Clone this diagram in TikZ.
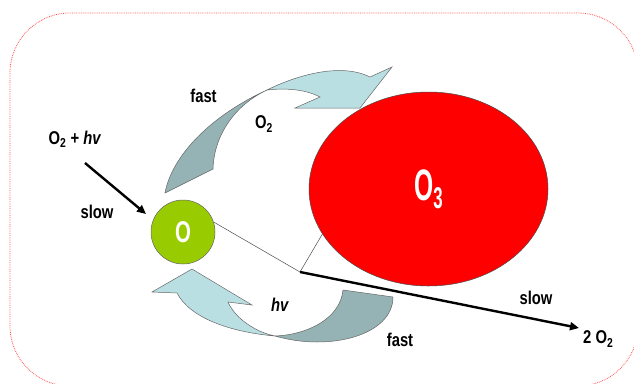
\documentclass[tikz,border=0pt]{standalone}
\usepackage{fontspec}
\setmainfont[FakeStretch=0.8]{Liberation Sans}
\usetikzlibrary{arrows.meta,shapes.geometric}
\definecolor{lightarr}{HTML}{B9DFE3}
\definecolor{darkarr}{HTML}{95B3B5}
\definecolor{ogreen}{HTML}{99CC00}
\definecolor{bordred}{HTML}{FF5050}
\begin{document}
\begin{tikzpicture}[x=1pt,y=-1pt,
  lbl/.style={font=\bfseries\fontsize{18.5}{19}\selectfont, inner sep=0pt},
  ribbonlight/.style={fill=lightarr, draw=black!60, line width=0.5pt},
  ribbondark/.style={fill=darkarr, draw=black!60, line width=0.5pt},
  thinlink/.style={draw=black!70, line width=0.5pt},
  boldarrow/.style={line width=2.4pt, -{Triangle[length=9pt,width=8pt]}}]
\useasboundingbox (0,0) rectangle (634,383);
\draw[bordred, densely dotted, line width=0.8pt, rounded corners=60pt] (10,13) rectangle (638,386);

% curved block arrows
\draw[ribbondark] (165,193) .. controls (172,155) and (212,115) .. (267,90)
  .. controls (235,105) and (214,135) .. (213,169) -- cycle;
\draw[ribbonlight] (267,90) .. controls (295,76) and (340,62) .. (370,77)
  -- (392,67) -- (360,108) -- (295,108) -- (320,97)
  .. controls (305,89) and (285,88) .. (267,90) -- cycle;
\draw[ribbondark] (393,297) .. controls (393,335) and (330,352) .. (275,336)
  .. controls (305,335) and (340,320) .. (343,290) -- cycle;
\draw[ribbonlight] (275,336) .. controls (230,332) and (190,318) .. (177,293)
  -- (152,292) -- (192,269) -- (252,305) -- (228,302)
  .. controls (235,318) and (255,332) .. (275,336) -- cycle;

% species
\node[circle, minimum size=64pt, inner sep=0pt, fill=ogreen, draw=black!60, line width=0.5pt] (O) at (183,232)
  {\color{white}\bfseries\fontsize{30}{30}\selectfont\scalebox{0.85}[1]{O}};
\node[ellipse, minimum width=239pt, minimum height=194pt, inner sep=0pt, fill=red, draw=black!70, line width=0.5pt] (O3) at (428.5,189)
  {\color{white}\bfseries\scalebox{0.7}[1]{\fontsize{44}{44}\selectfont O\raisebox{-8pt}{\fontsize{30}{30}\selectfont 3}}};

% connectors
\coordinate (v) at (300,272);
\coordinate (srcTail) at (85,163);
\coordinate (srcTip) at (146,214);
\coordinate (prodTip) at (579,328);
\draw[thinlink] (O.18) -- (v);
\draw[thinlink] (O3.203.5) -- (v);
\draw[boldarrow] (v) -- (prodTip);
\draw[boldarrow] (srcTail) -- (srcTip);

% labels
\node[lbl] (fastTop) at (203.5,96) {fast};
\node[lbl] (o2top) at (264,124) {O\textsubscript{2}};
\node[lbl] (src) at (75,139) {O\textsubscript{2} + \textit{hv}};
\node[lbl] (slowL) at (97,212) {slow};
\node[lbl] (hvlbl) at (280,305) {\textit{hv}};
\node[lbl] (fastBot) at (400,340) {fast};
\node[lbl] (slowR) at (536,298) {slow};
\node[lbl, anchor=west] (prod) at (583,339) {2 O\textsubscript{2}};
\end{tikzpicture}
\end{document}
